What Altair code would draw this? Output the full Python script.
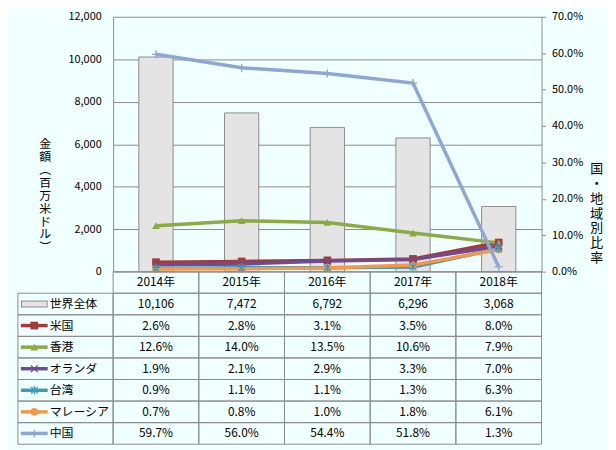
import altair as alt
import pandas as pd

years = ["2014年", "2015年", "2016年", "2017年", "2018年"]
world = [10106, 7472, 6792, 6296, 3068]
series_names = ["米国", "香港", "オランダ", "台湾", "マレーシア", "中国"]
us = [2.6, 2.8, 3.1, 3.5, 8.0]
hk = [12.6, 14.0, 13.5, 10.6, 7.9]
nl = [1.9, 2.1, 2.9, 3.3, 7.0]
tw = [0.9, 1.1, 1.1, 1.3, 6.3]
my = [0.7, 0.8, 1.0, 1.8, 6.1]
cn = [59.7, 56.0, 54.4, 51.8, 1.3]
world_label = "世界全体"

colors = ["#A33B3A", "#8BAB42", "#6E4B94", "#3B9CB5", "#F79646", "#8EA6D6"]
shapes = ["square", "triangle-up", "M-1,-1L1,1M-1,1L1,-1",
          "M-1,-1L1,1M-1,1L1,-1M0,-1.3L0,1.3", "circle", "M-1.2,0L1.2,0M0,-1.2L0,1.2"]
filled_set = ["米国", "香港", "マレーシア"]

FONT = "Noto Sans CJK JP"
GRID = "#8C8C8C"

all_series = [us, hk, nl, tw, my, cn]
rows = []
for name, vals in zip(series_names, all_series):
    for y, v in zip(years, vals):
        rows.append({"year": y, "series": name, "pct": v / 100.0})
df_lines = pd.DataFrame(rows)
df_world = pd.DataFrame({"year": years, "world": world})

W, H = 432, 257
LABW = 96
TH = 174

xs = alt.X("year:N", sort=years, axis=None,
           scale=alt.Scale(domain=years, paddingInner=0.6, paddingOuter=0.3))
color_scale = alt.Scale(domain=series_names, range=colors)
shape_scale = alt.Scale(domain=series_names, range=shapes)

bars = alt.Chart(df_world).mark_bar(fill="#E4E4E4", stroke="#8C8C8C", strokeWidth=1).encode(
    x=xs,
    y=alt.Y("world:Q", scale=alt.Scale(domain=[0, 12000]),
            axis=alt.Axis(values=[0, 2000, 4000, 6000, 8000, 10000, 12000], format=",.0f",
                          grid=True, gridColor=GRID, domainColor=GRID, ticks=False,
                          labelPadding=12, labelFontSize=11, labelColor="#000",
                          title=list("金額︵百万米ドル︶"), titleAngle=0.01, titleX=-69, titleY=128,
                          titleAlign="center", titleBaseline="middle", titleFontSize=12,
                          titleFontWeight="normal", titleLineHeight=13, titleColor="#000")),
)

yr = alt.Y("pct:Q", scale=alt.Scale(domain=[0, 0.7]),
           axis=alt.Axis(orient="right", values=[0, 0.1, 0.2, 0.3, 0.4, 0.5, 0.6, 0.7],
                         format=".1%", grid=False, domainColor=GRID, tickColor=GRID, tickSize=4,
                         labelPadding=6, labelFontSize=11, labelColor="#000",
                         title=list("国・地域別比率"), titleAngle=0.01, titleX=55, titleY=153,
                         titleAlign="center", titleBaseline="middle", titleFontSize=13,
                         titleFontWeight="normal", titleLineHeight=15, titleColor="#000"))

base = alt.Chart(df_lines).encode(
    x=xs, y=yr,
    color=alt.Color("series:N", scale=color_scale, legend=None),
)
lines = base.mark_line(strokeWidth=3.5)
pts_f = base.transform_filter(alt.FieldOneOfPredicate(field="series", oneOf=filled_set)).mark_point(
    filled=True, size=60, opacity=1).encode(shape=alt.Shape("series:N", scale=shape_scale, legend=None))
pts_s = base.transform_filter(~alt.FieldOneOfPredicate(field="series", oneOf=filled_set)).mark_point(
    filled=False, size=45, strokeWidth=1.3, opacity=1).encode(shape=alt.Shape("series:N", scale=shape_scale, legend=None))
line_layer = alt.layer(lines, pts_f, pts_s)

main = alt.layer(bars, line_layer).resolve_scale(y="independent").properties(width=W, height=H)

spacer = alt.Chart(pd.DataFrame({"a": [0]})).mark_point(opacity=0).encode(
    x=alt.value(0), y=alt.value(0)).properties(width=LABW, height=H)

# table
trows = []
for i, y in enumerate(years):
    trows.append({"year": y, "row": 0, "text": y})
    trows.append({"year": y, "row": 1, "text": f"{world[i]:,}"})
    for k, vals in enumerate(all_series):
        trows.append({"year": y, "row": k + 2, "text": f"{vals[i]:.1f}%"})
df_table = pd.DataFrame(trows)

ty = alt.Y("row:O", axis=None, scale=alt.Scale(type="band", domain=list(range(8)),
                                                paddingInner=0, paddingOuter=0))
tx = alt.X("year:N", axis=None, scale=alt.Scale(type="band", domain=years,
                                                 paddingInner=0, paddingOuter=0))
tcells = alt.Chart(df_table).mark_rect(fillOpacity=0, stroke=GRID, strokeWidth=1).encode(x=tx, y=ty)
ttext = alt.Chart(df_table).mark_text(fontSize=12, color="#000").encode(x=tx, y=ty, text="text:N")
table = alt.layer(tcells, ttext).properties(width=W, height=TH)

# label column
lab_names = [world_label] + series_names
df_lab = pd.DataFrame({"row": list(range(1, 8)), "name": lab_names})
df_ser = pd.DataFrame({"row": list(range(2, 8)), "series": series_names})
df_w = pd.DataFrame({"row": [1], "name": [world_label]})

lcells = alt.Chart(df_lab).mark_rect(fillOpacity=0, stroke=GRID, strokeWidth=1).encode(
    x=alt.value(0), x2=alt.value(LABW), y=ty)
ltext = alt.Chart(df_lab).mark_text(fontSize=12, color="#000", align="left").encode(
    x=alt.value(32), y=ty, text="name:N")
wsw_o = alt.Chart(df_w).mark_rule(strokeWidth=7, color="#8C8C8C", strokeCap="butt").encode(
    x=alt.value(3), x2=alt.value(30), y=ty)
wsw_i = alt.Chart(df_w).mark_rule(strokeWidth=5, color="#E4E4E4", strokeCap="butt").encode(
    x=alt.value(4), x2=alt.value(29), y=ty)
lbase = alt.Chart(df_ser).encode(y=ty, color=alt.Color("series:N", scale=color_scale, legend=None))
lline = lbase.mark_rule(strokeWidth=3.5).encode(x=alt.value(3), x2=alt.value(30))
lpf = lbase.transform_filter(alt.FieldOneOfPredicate(field="series", oneOf=filled_set)).mark_point(
    filled=True, size=60, opacity=1).encode(x=alt.value(16.5),
                                           shape=alt.Shape("series:N", scale=shape_scale, legend=None))
lps = lbase.transform_filter(~alt.FieldOneOfPredicate(field="series", oneOf=filled_set)).mark_point(
    filled=False, size=45, strokeWidth=1.3, opacity=1).encode(x=alt.value(16.5),
                                                             shape=alt.Shape("series:N", scale=shape_scale, legend=None))
labels = alt.layer(lcells, ltext, wsw_o, wsw_i, lline, lpf, lps).properties(width=LABW, height=TH)

chart = alt.concat(spacer, main, labels, table, columns=2, spacing=0, bounds="flush", align="each").properties(
    padding={"left": 7, "top": 1, "right": 5, "bottom": 5},
    background="#F0FFFF",
).configure(font=FONT).configure_view(stroke=None)

chart.save("out.html", embed_options={"renderer": "svg", "actions": False})
